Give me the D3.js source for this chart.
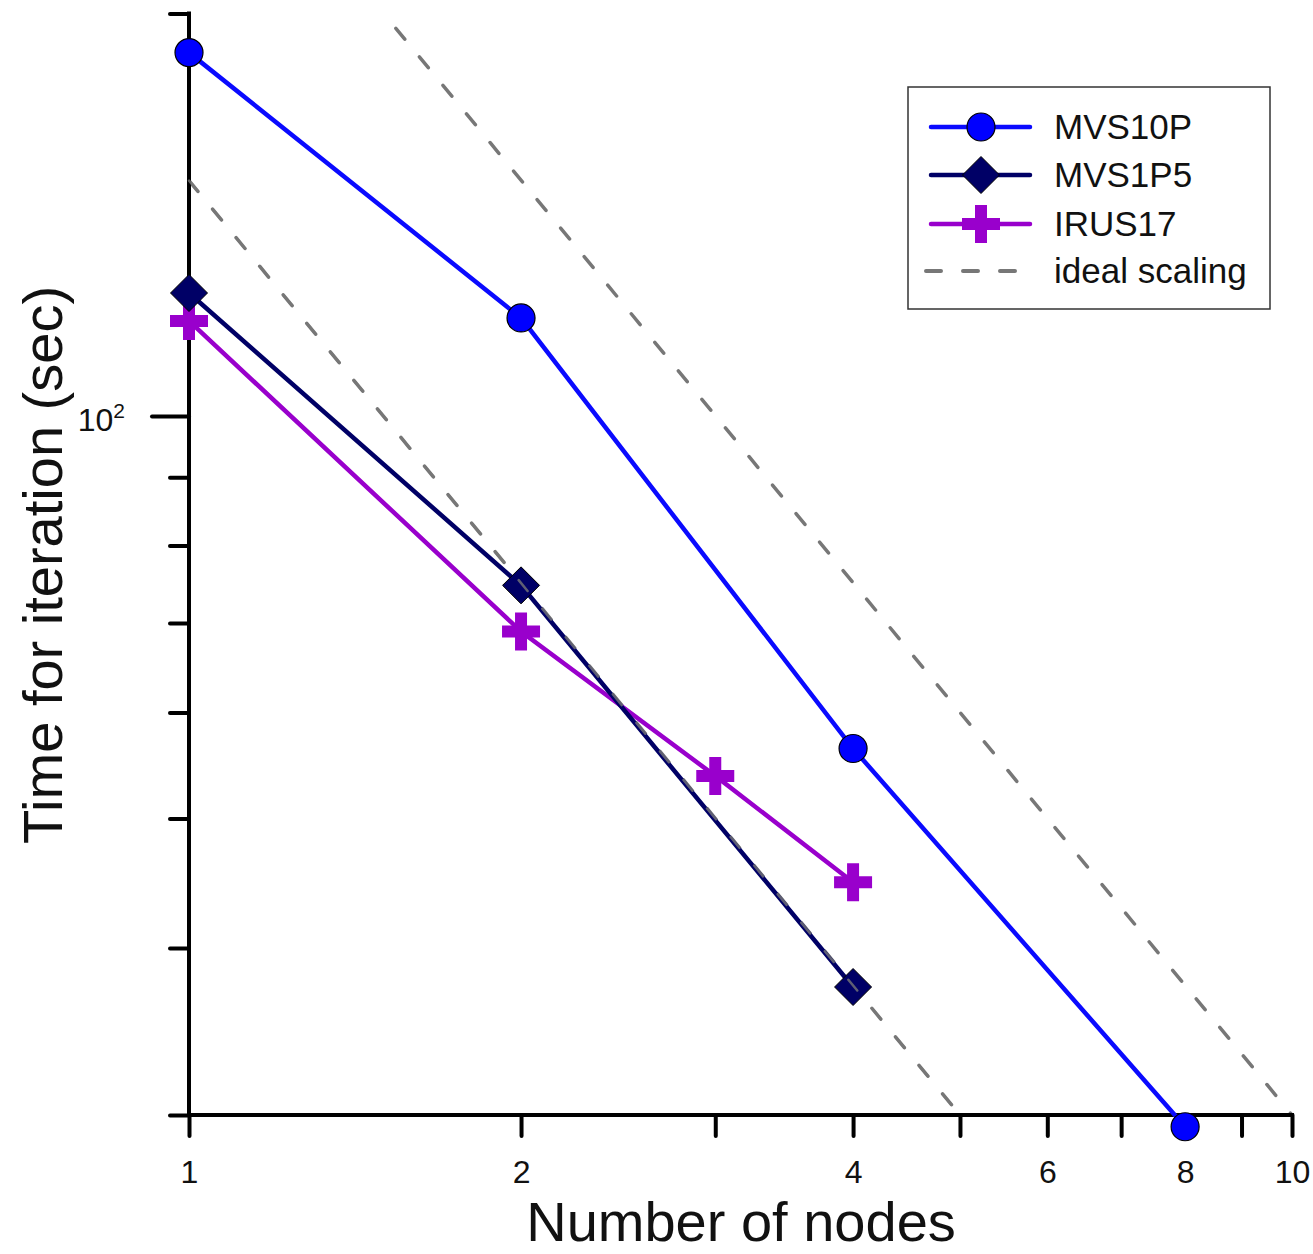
<!DOCTYPE html>
<html>
<head>
<meta charset="utf-8">
<script src="https://cdn.jsdelivr.net/npm/d3@7"></script>
<style>
  body { margin: 0; background: #fff; }
  text { font-family: "Liberation Sans", Arial, sans-serif; fill: #111; }
</style>
</head>
<body>
<div id="chart"></div>
<script>
// data
var nodesMVS10P = [1, 2, 4, 8];
var timeMVS10P = [187, 118.4, 56.4, 29.4];
var nodesMVS1P5 = [1, 2, 4];
var timeMVS1P5 = [123.6, 74.7, 37.4];
var nodesIRUS17 = [1, 2, 3, 4];
var timeIRUS17 = [117.8, 69, 53.8, 44.8];
// ideal scaling guides (time = c / nodes)
var idealA = [[1, 150], [5, 30]];
var idealB = [[1.54, 195], [10, 30]];
var xTicks = [1, 2, 3, 4, 5, 6, 7, 8, 9, 10];
var xLabels = [1, 2, 4, 6, 8, 10];
var yMinor = [30, 40, 50, 60, 70, 80, 90, 200];
var yMajor = [100];
var legendNames = ["MVS10P", "MVS1P5", "IRUS17", "ideal scaling"];

var W = 1313, H = 1254;

var x = d3.scaleLog().domain([1, 10]).range([189, 1292]);
var y = d3.scaleLog().domain([30, 200]).range([1115, 13.6]);

var svg = d3.select("#chart").append("svg")
    .attr("width", W)
    .attr("height", H);

var line = d3.line()
    .x(function(d) { return x(d[0]); })
    .y(function(d) { return y(d[1]); });

// ideal scaling dashed lines
[idealA, idealB].forEach(function(seg) {
  svg.append("path")
      .attr("d", line(seg))
      .style("fill", "none")
      .style("stroke", "#777")
      .style("stroke-width", 3.5)
      .style("stroke-linecap", "round")
      .style("stroke-dasharray", "14,23");
});

// axes
var xAxis = d3.axisBottom(x).tickValues(xTicks).tickSize(21).tickPadding(24)
    .tickFormat(function(d) { return xLabels.indexOf(d) >= 0 ? d : ""; });
var gx = svg.append("g")
    .attr("transform", "translate(0,1115)")
    .call(xAxis);

var gyMinor = svg.append("g")
    .attr("transform", "translate(189,0)")
    .call(d3.axisLeft(y).tickValues(yMinor).tickSize(19).tickFormat(""));
var gyMajor = svg.append("g")
    .attr("transform", "translate(189,0)")
    .call(d3.axisLeft(y).tickValues(yMajor).tickSize(37).tickPadding(26).tickFormat(""));

[gx, gyMinor, gyMajor].forEach(function(g) {
  g.select(".domain").style("stroke", "#000").style("stroke-width", 4).style("stroke-linecap", "square");
  g.selectAll(".tick line").style("stroke", "#000").style("stroke-width", 4).style("stroke-linecap", "round");
});
gyMinor.select(".domain").attr("d", "M0," + y(200) + "V" + y(30));
gyMajor.select(".domain").remove();
gx.select(".domain").attr("d", "M" + x(1) + ",0H" + x(10));

gx.selectAll(".tick text")
    .style("font-size", "32px")
    .style("font-family", "'Liberation Sans', Arial, sans-serif")
    .style("fill", "#111");

var lab = gyMajor.selectAll(".tick text")
    .style("font-size", "32px")
    .style("font-family", "'Liberation Sans', Arial, sans-serif")
    .style("fill", "#111")
    .attr("x", -64)
    .attr("dy", "0.45em");
lab.append("tspan").text("10");
lab.append("tspan").attr("dy", "-0.6em").style("font-size", "21px").text("2");

// axis titles
svg.append("text")
    .attr("x", 741)
    .attr("y", 1241)
    .attr("text-anchor", "middle")
    .style("font-size", "56px")
    .text("Number of nodes");

svg.append("text")
    .attr("transform", "translate(62,565) rotate(-90)")
    .attr("text-anchor", "middle")
    .style("font-size", "56px")
    .text("Time for iteration (sec)");

// markers
function circleMark(g) {
  g.append("circle").attr("r", 14)
      .style("fill", "#0000ff").style("stroke", "#000").style("stroke-width", 1.2);
}
function diamondMark(g) {
  g.append("path").attr("d", "M0,-18.5L18.5,0L0,18.5L-18.5,0Z")
      .style("fill", "#000066").style("stroke", "#000").style("stroke-width", 1);
}
function plusMark(g) {
  g.append("path").attr("d", "M-6,-19H6V-6H19V6H6V19H-6V6H-19V-6H-6Z")
      .style("fill", "#9900cc");
}

var series = [
  { nodes: nodesMVS10P, time: timeMVS10P, color: "#0a0aff", width: 4.5, mark: circleMark },
  { nodes: nodesMVS1P5, time: timeMVS1P5, color: "#000066", width: 4.5, mark: diamondMark },
  { nodes: nodesIRUS17, time: timeIRUS17, color: "#9900cc", width: 4.5, mark: plusMark }
];

// draw IRUS17 first, then MVS1P5, then MVS10P
[2, 1, 0].forEach(function(k) {
  var s = series[k];
  var pts = s.nodes.map(function(n, i) { return [n, s.time[i]]; });
  svg.append("path")
      .attr("d", line(pts))
      .style("fill", "none")
      .style("stroke", s.color)
      .style("stroke-width", s.width);
  pts.forEach(function(p) {
    var g = svg.append("g").attr("transform", "translate(" + x(p[0]) + "," + y(p[1]) + ")");
    s.mark(g);
  });
});

// redraw the ideal line over the MVS1P5 segment, as in the picture
svg.append("path")
    .attr("d", line(idealA))
    .style("fill", "none")
    .style("stroke", "#777")
    .style("stroke-width", 2.5)
    .style("stroke-linecap", "round")
    .style("stroke-dasharray", "14,23")
    .style("opacity", 0.8);

// legend
var lg = svg.append("g");
lg.append("rect")
    .attr("x", 908).attr("y", 87)
    .attr("width", 362).attr("height", 222)
    .style("fill", "#fff")
    .style("stroke", "#333")
    .style("stroke-width", 1.5);

var rowsY = [127, 175, 224, 271];
series.forEach(function(s, i) {
  lg.append("line")
      .attr("x1", 931).attr("x2", 1030)
      .attr("y1", rowsY[i]).attr("y2", rowsY[i])
      .style("stroke", s.color)
      .style("stroke-width", s.width)
      .style("stroke-linecap", "round");
  s.mark(lg.append("g").attr("transform", "translate(981," + rowsY[i] + ")"));
});
lg.append("line")
    .attr("x1", 926).attr("x2", 1016)
    .attr("y1", rowsY[3]).attr("y2", rowsY[3])
    .style("stroke", "#777")
    .style("stroke-width", 4)
    .style("stroke-linecap", "round")
    .style("stroke-dasharray", "15,22");

lg.selectAll("text.leg")
    .data(legendNames)
    .enter().append("text")
    .attr("class", "leg")
    .attr("x", 1054)
    .attr("y", function(d, i) { return rowsY[i] + 12; })
    .style("font-size", "35px")
    .text(function(d) { return d; });
</script>
</body>
</html>
